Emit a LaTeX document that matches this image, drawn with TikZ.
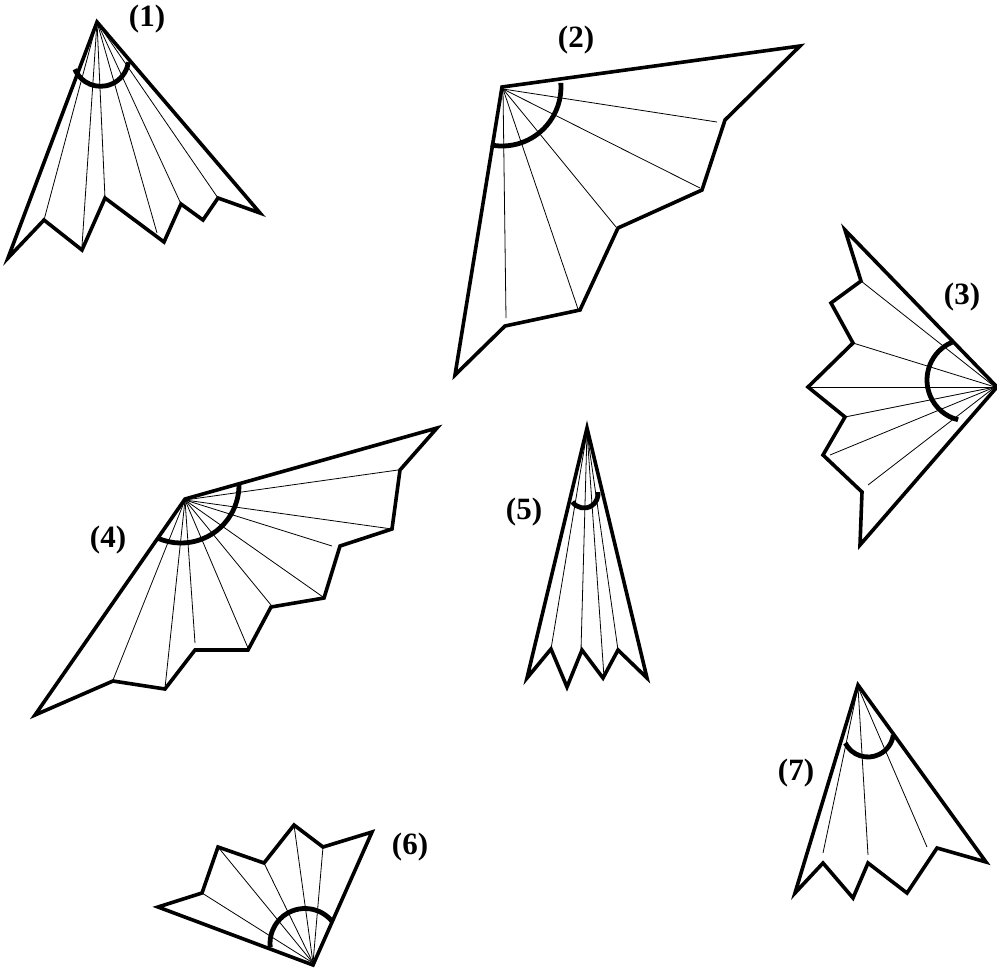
\documentclass[tikz,border=0pt]{standalone}
\usepackage{fontspec}
\setmainfont{Liberation Serif}
\usepackage{tikz}

\begin{document}
\begin{tikzpicture}[
    x=1pt, y=-1pt,
    outline/.style={line width=3.6pt, line join=miter},
    fold/.style={line width=0.8pt},
    sweep/.style={line width=4.8pt},
    tag/.style={font=\fontsize{31}{34}\selectfont\bfseries, inner sep=0pt}
]
\useasboundingbox (0,0) rectangle (997,975);

% Apexes
\coordinate (a1) at (97,22);
\coordinate (a2) at (503,89);
\coordinate (a3) at (995,387);
\coordinate (a4) at (185,500);
\coordinate (a5) at (587,432);
\coordinate (a6) at (313,963);
\coordinate (a7) at (858,687);

% Fan 1
\draw[outline] (97,22) -- (260,213) -- (218,198) -- (203,220) -- (181,204) -- (164,242)
    -- (105,198) -- (82,250) -- (44,220) -- (8,258) -- cycle;
\foreach \x/\y in {44/220, 82/246, 105/198, 157/233, 181/204, 218/198}
    \draw[fold] (a1) -- (\x,\y);
\draw[sweep] ([shift={(-157:28pt)}]100.6,58.3) arc[start angle=-157, end angle=-8, radius=28pt];
\node[tag] (l1) at (147,19) {(1)};

% Fan 2
\draw[outline] (502,87) -- (800,46) -- (725,120) -- (702,190) -- (618,228) -- (580,310)
    -- (505,326) -- (455,375) -- cycle;
\foreach \x/\y in {717/122, 700/188, 616/227, 578/309, 506/318}
    \draw[fold] (a2) -- (\x,\y);
\draw[sweep] ([shift={(-101:59pt)}]502,87) arc[start angle=-101, end angle=4, radius=59pt];
\node[tag] (l2) at (576,40) {(2)};

% Fan 3
\draw[outline] (997,387) -- (845,230) -- (861,281) -- (831,303) -- (853,343) -- (808,387)
    -- (845,417) -- (823,455) -- (862,492) -- (860,545) -- cycle;
\foreach \x/\y in {861/281, 853/343, 808/387, 845/417, 830/455, 868/485}
    \draw[fold] (a3) -- (\x,\y);
\draw[sweep] ([shift={(113:41pt)}]968,380) arc[start angle=113, end angle=256, radius=41pt];
\node[tag] (l3) at (962,297) {(3)};

% Fan 4
\draw[outline] (185,499) -- (437,428) -- (400,470) -- (392,529) -- (340,546) -- (324,598)
    -- (271,607) -- (248,650) -- (195,650) -- (165,689) -- (113,681) -- (35,715) -- cycle;
\foreach \x/\y in {398/470, 392/529, 332/546, 323/597, 271/605, 248/648, 195/643, 165/688, 113/680}
    \draw[fold] (a4) -- (\x,\y);
\draw[sweep] ([shift={(-114:58pt)}]181,485) arc[start angle=-114, end angle=2, radius=58pt];
\node[tag] (l4) at (108,540) {(4)};

% Fan 5
\draw[outline] (587,428) -- (647,678) -- (618,650) -- (603,678) -- (582,650) -- (567,687)
    -- (551,649) -- (527,678) -- cycle;
\foreach \x/\y in {551/649, 581/650, 604/677, 618/650}
    \draw[fold] (a5) -- (\x,\y);
\draw[sweep] ([shift={(-146:14pt)}]584,494) arc[start angle=-146, end angle=8, radius=14pt];
\node[tag] (l5) at (524,512) {(5)};

% Fan 6
\draw[outline] (313,965) -- (158,907) -- (202,893) -- (218,847) -- (264,863) -- (294,825)
    -- (323,847) -- (372,832) -- cycle;
\foreach \x/\y in {202/893, 218/847, 264/863, 294/825, 323/847}
    \draw[fold] (a6) -- (\x,\y);
\draw[sweep] ([shift={(38:35pt)}]305,943.5) arc[start angle=38, end angle=186, radius=35pt];
\node[tag] (l6) at (410,847) {(6)};

% Fan 7
\draw[outline] (858,685) -- (986,862) -- (937,848) -- (907,893) -- (868,863) -- (853,898)
    -- (823,863) -- (795,893) -- cycle;
\foreach \x/\y in {823/853, 868/855, 927/847}
    \draw[fold] (a7) -- (\x,\y);
\draw[sweep] ([shift={(-153:25.5pt)}]868,731.5) arc[start angle=-153, end angle=-8, radius=25.5pt];
\node[tag] (l7) at (796,773) {(7)};
\end{tikzpicture}
\end{document}
